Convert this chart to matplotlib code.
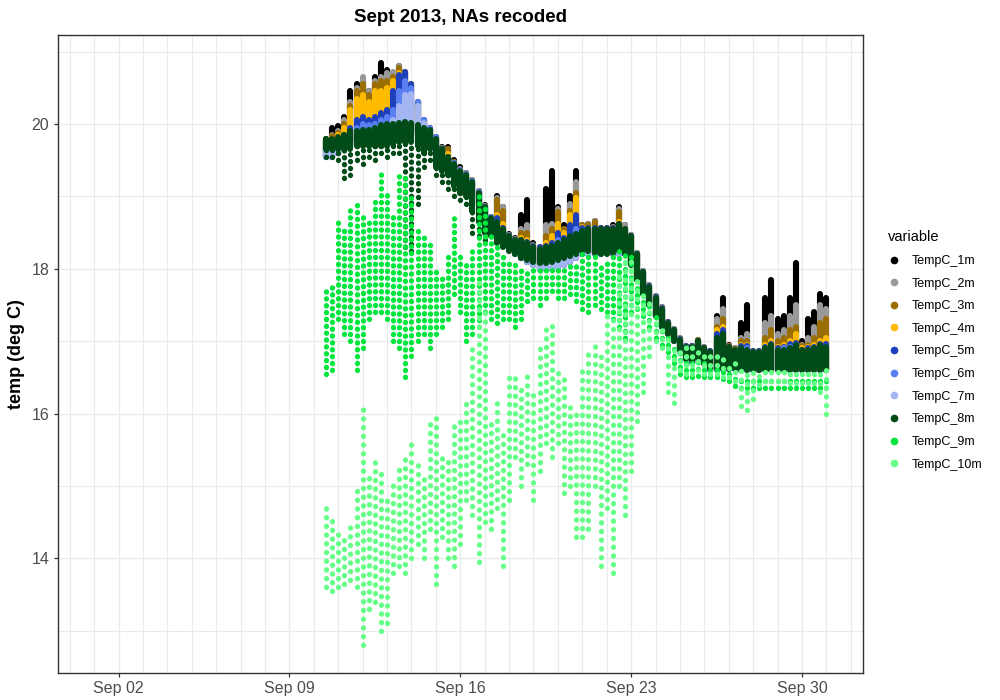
import numpy as np
import matplotlib
matplotlib.use('Agg')
import matplotlib.pyplot as plt
import matplotlib.dates as mdates
from matplotlib.lines import Line2D
from matplotlib.ticker import MultipleLocator

plt.rcParams['font.family'] = ['Liberation Sans', 'DejaVu Sans']

# %% data: 6-hourly bins, day of Sept 2013 (31 = Oct 1)
# each bin holds the low / high reading seen in that bin
day = np.arange(10.5, 31.01, 0.25)

# shared low edge of the 1m..7m loggers
floor_1to7 = [19.55, 19.55, 19.6, 19.65, 19.7, 19.75, 19.75, 19.78, 19.8, 19.8,
              19.8, 19.82, 19.85, 19.9, 19.9, 19.85, 19.8, 19.7, 19.6, 19.5,
              19.45, 19.35, 19.25, 19.15, 19.05, 18.9, 18.7, 18.55, 18.45, 18.4,
              18.3, 18.2, 18.15, 18.1, 18.05, 18.0, 18.0, 18.0, 18.02, 18.05,
              18.1, 18.15, 18.2, 18.2, 18.2, 18.2, 18.22, 18.2, 18.2, 18.2,
              18.1, 17.9, 17.7, 17.5, 17.35, 17.2, 17.1, 17.0, 16.85, 16.75,
              16.7, 16.72, 16.7, 16.6, 16.6, 16.62, 16.62, 16.62, 16.6, 16.6,
              16.6, 16.6, 16.6, 16.6, 16.6, 16.6, 16.6, 16.6, 16.6, 16.6,
              16.6, 16.6, 16.6]

hi_1m = [19.8, 19.95, 19.97, 20.1, 20.45, 20.55, 20.6, 20.45, 20.65, 20.85,
         20.75, 20.65, 20.8, 20.72, 20.55, 20.3, 20.05, 19.95, 19.82, 19.68,
         19.68, 19.5, 19.4, 19.32, 19.22, 19.08, 18.88, 18.72, 19.0, 18.85,
         18.48, 18.42, 18.75, 18.95, 18.35, 18.3, 19.1, 19.35, 18.85, 18.6,
         19.0, 19.35, 18.6, 18.62, 18.66, 18.57, 18.57, 18.6, 18.85, 18.6,
         18.47, 18.22, 17.97, 17.77, 17.62, 17.47, 17.27, 17.17, 17.04, 16.94,
         16.94, 17.02, 16.92, 16.87, 17.35, 17.6, 16.95, 16.9, 17.25, 17.5,
         16.87, 16.87, 17.6, 17.85, 17.3, 17.35, 17.6, 18.08, 17.0, 17.3,
         17.4, 17.65, 17.6]
hi_2m = [19.78, 19.85, 19.9, 20.05, 20.3, 20.5, 20.65, 20.45, 20.6, 20.65,
         20.7, 20.72, 20.8, 20.72, 20.55, 20.3, 20.05, 19.95, 19.82, 19.67,
         19.66, 19.48, 19.38, 19.32, 19.22, 19.07, 18.87, 18.72, 18.98, 18.85,
         18.47, 18.41, 18.55, 18.6, 18.33, 18.3, 18.6, 18.62, 18.82, 18.55,
         18.9, 19.2, 18.6, 18.62, 18.66, 18.57, 18.57, 18.58, 18.82, 18.6,
         18.47, 18.22, 17.97, 17.77, 17.62, 17.47, 17.27, 17.17, 17.04, 16.94,
         16.94, 17.02, 16.92, 16.87, 17.3, 17.45, 16.94, 16.9, 17.05, 17.1,
         16.87, 16.87, 17.25, 17.35, 17.1, 17.15, 17.35, 17.5, 16.95, 17.05,
         17.2, 17.5, 17.45]
hi_3m = [19.78, 19.83, 19.88, 20.0, 20.25, 20.45, 20.55, 20.4, 20.55, 20.6,
         20.6, 20.65, 20.78, 20.72, 20.55, 20.3, 20.05, 19.95, 19.82, 19.66,
         19.65, 19.47, 19.37, 19.31, 19.21, 19.06, 18.86, 18.71, 18.95, 18.8,
         18.46, 18.4, 18.5, 18.5, 18.32, 18.3, 18.45, 18.55, 18.78, 18.55,
         18.8, 19.05, 18.6, 18.6, 18.65, 18.56, 18.56, 18.57, 18.78, 18.55,
         18.46, 18.21, 17.96, 17.76, 17.61, 17.46, 17.26, 17.16, 17.03, 16.93,
         16.93, 17.01, 16.91, 16.86, 17.2, 17.3, 16.93, 16.89, 17.0, 17.0,
         16.86, 16.86, 17.05, 17.15, 17.0, 17.05, 17.15, 17.2, 16.93, 16.95,
         17.05, 17.25, 17.3]
hi_4m = [19.77, 19.8, 19.85, 19.95, 20.2, 20.35, 20.4, 20.3, 20.45, 20.45,
         20.5, 20.6, 20.7, 20.72, 20.55, 20.3, 20.05, 19.95, 19.82, 19.66,
         19.58, 19.46, 19.36, 19.31, 19.21, 19.06, 18.86, 18.71, 18.75, 18.62,
         18.46, 18.4, 18.42, 18.4, 18.32, 18.3, 18.36, 18.45, 18.62, 18.5,
         18.75, 18.98, 18.58, 18.56, 18.56, 18.56, 18.56, 18.56, 18.65, 18.52,
         18.46, 18.21, 17.96, 17.76, 17.61, 17.46, 17.26, 17.16, 17.03, 16.93,
         16.93, 17.0, 16.9, 16.86, 17.15, 17.2, 16.92, 16.88, 16.95, 16.95,
         16.86, 16.86, 16.95, 17.0, 16.92, 16.95, 17.0, 17.1, 16.9, 16.92,
         16.95, 17.0, 17.05]
hi_5m = [19.76, 19.78, 19.8, 19.85, 19.95, 20.05, 20.1, 20.05, 20.1, 20.15,
         20.2, 20.45, 20.68, 20.72, 20.55, 20.3, 20.05, 19.95, 19.82, 19.66,
         19.55, 19.46, 19.36, 19.31, 19.21, 19.06, 18.86, 18.71, 18.7, 18.56,
         18.46, 18.4, 18.4, 18.37, 18.32, 18.3, 18.32, 18.36, 18.5, 18.42,
         18.6, 18.75, 18.56, 18.56, 18.56, 18.56, 18.56, 18.56, 18.62, 18.5,
         18.46, 18.21, 17.96, 17.76, 17.61, 17.46, 17.26, 17.16, 17.03, 16.93,
         16.93, 17.0, 16.9, 16.86, 17.1, 17.15, 16.92, 16.88, 16.93, 16.93,
         16.86, 16.86, 16.92, 16.96, 16.9, 16.92, 16.96, 16.98, 16.88, 16.9,
         16.92, 16.96, 16.96]
hi_6m = [19.74, 19.76, 19.78, 19.82, 19.88, 19.95, 20.0, 19.98, 20.0, 20.05,
         20.1, 20.2, 20.45, 20.6, 20.5, 20.3, 20.05, 19.95, 19.82, 19.66,
         19.52, 19.46, 19.36, 19.31, 19.21, 19.06, 18.86, 18.71, 18.65, 18.53,
         18.46, 18.4, 18.38, 18.34, 18.3, 18.28, 18.28, 18.3, 18.4, 18.35,
         18.45, 18.55, 18.52, 18.52, 18.52, 18.52, 18.52, 18.52, 18.57, 18.48,
         18.45, 18.2, 17.95, 17.75, 17.6, 17.45, 17.25, 17.15, 17.02, 16.92,
         16.92, 16.98, 16.88, 16.84, 17.0, 17.05, 16.9, 16.86, 16.9, 16.9,
         16.85, 16.85, 16.9, 16.92, 16.88, 16.9, 16.92, 16.95, 16.86, 16.88,
         16.9, 16.92, 16.92]
hi_7m = [19.72, 19.74, 19.75, 19.78, 19.8, 19.85, 19.88, 19.88, 19.9, 19.92,
         19.95, 20.05, 20.25, 20.4, 20.42, 20.25, 20.02, 19.9, 19.78, 19.64,
         19.5, 19.44, 19.35, 19.3, 19.2, 19.05, 18.85, 18.7, 18.6, 18.5,
         18.44, 18.38, 18.33, 18.3, 18.28, 18.25, 18.22, 18.24, 18.3, 18.3,
         18.35, 18.45, 18.45, 18.45, 18.45, 18.45, 18.45, 18.47, 18.5, 18.42,
         18.4, 18.15, 17.9, 17.7, 17.55, 17.4, 17.22, 17.12, 17.0, 16.9,
         16.9, 16.95, 16.86, 16.82, 16.9, 16.95, 16.88, 16.85, 16.85, 16.85,
         16.84, 16.84, 16.85, 16.85, 16.84, 16.84, 16.85, 16.88, 16.82, 16.84,
         16.85, 16.85, 16.85]

# 8m: dense core plus the sparse dips of the first days
lo_8m = [19.65, 19.65, 19.65, 19.65, 19.65, 19.7, 19.7, 19.7, 19.7, 19.7,
         19.7, 19.72, 19.75, 19.75, 19.75, 19.7, 19.6, 19.65, 19.4, 19.35,
         19.3, 19.15, 19.05, 19.0, 18.8, 18.65, 18.5, 18.45, 18.35, 18.3,
         18.25, 18.2, 18.15, 18.12, 18.1, 18.08, 18.08, 18.1, 18.12, 18.15,
         18.18, 18.2, 18.25, 18.25, 18.22, 18.2, 18.2, 18.22, 18.25, 18.2,
         18.05, 17.85, 17.65, 17.5, 17.35, 17.2, 17.1, 17.0, 16.88, 16.75,
         16.72, 16.75, 16.68, 16.62, 16.62, 16.62, 16.62, 16.62, 16.6, 16.6,
         16.6, 16.6, 16.6, 16.6, 16.6, 16.6, 16.6, 16.6, 16.6, 16.6,
         16.6, 16.6, 16.6]
hi_8m = [19.8, 19.8, 19.82, 19.85, 19.9, 19.9, 19.92, 19.92, 19.95, 19.98,
         20.0, 20.0, 20.02, 20.03, 20.02, 19.98, 19.95, 19.92, 19.8, 19.65,
         19.55, 19.45, 19.35, 19.3, 19.2, 19.05, 18.85, 18.7, 18.65, 18.55,
         18.45, 18.4, 18.4, 18.35, 18.3, 18.28, 18.3, 18.32, 18.35, 18.4,
         18.45, 18.48, 18.52, 18.55, 18.55, 18.55, 18.55, 18.55, 18.62, 18.55,
         18.45, 18.2, 17.95, 17.75, 17.6, 17.45, 17.25, 17.15, 17.02, 16.92,
         16.92, 17.0, 16.9, 16.85, 17.05, 17.1, 16.92, 16.88, 16.9, 16.88,
         16.85, 16.85, 16.9, 16.95, 16.88, 16.88, 16.9, 16.95, 16.88, 16.88,
         16.9, 16.95, 16.92]
dip_8m = [19.55, 19.55, 19.5, 19.25, 19.3, 19.5, 19.45, 19.55, 19.5, 19.6,
          19.55, 19.6, 19.6, 18.3, 18.25, 18.9, 19.4, 19.5, 19.3, 19.2,
          19.1, 19.0, 18.95, 18.9, 18.5, 18.45, 18.4]

lo_9m = [16.55, 16.6, 17.3, 17.1, 17.0, 16.6, 16.9, 17.3, 17.4, 17.4,
         17.3, 17.0, 16.9, 16.5, 16.8, 17.0, 17.1, 16.9, 17.1, 17.2,
         17.3, 17.65, 17.4, 17.0, 17.1, 17.2, 17.4, 17.3, 17.25, 17.3,
         17.3, 17.2, 17.3, 17.55, 17.6, 17.5, 17.6, 17.7, 17.6, 17.6,
         17.65, 17.55, 17.45, 17.4, 17.5, 17.45, 17.4, 17.3, 17.2, 17.05,
         17.4, 17.45, 17.35, 17.2, 17.05, 16.95, 16.85, 16.7, 16.55, 16.5,
         16.5, 16.52, 16.5, 16.5, 16.5, 16.48, 16.45, 16.38, 16.36, 16.36,
         16.36, 16.36, 16.36, 16.36, 16.36, 16.36, 16.36, 16.36, 16.36, 16.36,
         16.36, 16.36, 16.36]
hi_9m = [17.7, 17.75, 18.7, 18.6, 18.9, 18.95, 18.8, 18.7, 19.0, 19.35,
         19.1, 18.8, 19.3, 19.25, 19.0, 18.6, 18.5, 18.4, 18.0, 17.9,
         18.2, 18.7, 18.2, 18.1, 18.3, 19.0, 18.85, 18.45, 18.3, 18.2,
         18.1, 18.05, 18.0, 18.0, 18.0, 18.05, 18.0, 18.0, 18.05, 18.0,
         18.05, 18.1, 18.2, 18.25, 18.2, 18.1, 18.15, 18.2, 18.25, 18.25,
         18.2, 17.85, 17.7, 17.5, 17.35, 17.2, 17.1, 16.95, 16.85, 16.8,
         16.75, 16.8, 16.72, 16.68, 16.68, 16.65, 16.6, 16.5, 16.48, 16.48,
         16.48, 16.48, 16.48, 16.48, 16.48, 16.48, 16.48, 16.48, 16.48, 16.48,
         16.48, 16.48, 16.48]

lo_10m = [13.6, 13.55, 13.6, 13.65, 13.7, 13.6, 12.8, 13.3, 13.4, 13.0,
          13.1, 13.8, 13.9, 13.8, 14.0, 14.2, 14.0, 14.4, 13.65, 14.3,
          14.0, 13.9, 14.2, 14.8, 14.6, 13.95, 14.5, 14.4, 14.7, 13.9,
          14.8, 15.4, 15.0, 15.3, 14.8, 15.2, 15.6, 15.4, 15.6, 14.9,
          15.0, 14.3, 14.3, 14.4, 15.0, 13.9, 14.7, 13.8, 15.0, 14.6,
          15.2, 15.9, 16.3, 16.8, 17.0, 16.9, 16.3, 16.15, 16.6, 16.55,
          16.55, 16.6, 16.55, 16.55, 16.55, 16.5, 16.5, 16.45, 16.1, 16.05,
          16.2, 16.4, 16.45, 16.45, 16.45, 16.45, 16.42, 16.42, 16.42, 16.42,
          16.42, 16.3, 16.0]
hi_10m = [14.8, 14.6, 14.4, 14.3, 14.5, 15.0, 16.1, 15.2, 15.4, 15.2,
          14.9, 15.1, 15.3, 15.4, 15.6, 15.3, 15.2, 15.9, 15.95, 15.4,
          15.4, 15.9, 16.0, 16.2, 17.0, 17.9, 17.5, 15.9, 16.2, 15.8,
          16.5, 16.6, 16.4, 16.6, 16.3, 16.9, 17.2, 17.3, 16.6, 16.5,
          16.2, 16.0, 16.7, 16.9, 17.0, 16.8, 17.4, 17.3, 17.9, 18.1,
          18.2, 17.9, 17.7, 17.55, 17.35, 17.2, 17.05, 16.95, 16.9, 16.95,
          17.0, 16.95, 16.85, 16.8, 16.8, 16.78, 16.72, 16.7, 16.65, 16.62,
          16.62, 16.6, 16.6, 16.6, 16.6, 16.6, 16.6, 16.62, 16.62, 16.62,
          16.62, 16.6, 16.6]

series = ['TempC_1m', 'TempC_2m', 'TempC_3m', 'TempC_4m', 'TempC_5m',
          'TempC_6m', 'TempC_7m', 'TempC_8m', 'TempC_9m', 'TempC_10m']
colors = ['#000000', '#999999', '#9a6e00', '#ffbb00', '#1f40bb',
          '#5a7ff0', '#a3b6f2', '#004b18', '#00e63c', '#66ff88']

# %% plot
t0 = mdates.date2num(np.datetime64('2013-09-01'))
x = t0 + day - 1

fig = plt.figure(figsize=(10, 7), dpi=100)
ax = fig.add_axes([0.0575, 0.039, 0.8055, 0.911])

lw = 4.4
dotted = [(0, (0.05, 1.25))]
upper = [hi_1m, hi_2m, hi_3m, hi_4m, hi_5m, hi_6m, hi_7m]
for hi, c in zip(upper, colors[:7]):
    lc = ax.vlines(x, floor_1to7, hi, colors=c, linewidth=lw, zorder=3)
    lc.set_capstyle('round')
n_dip = len(dip_8m)
lc = ax.vlines(x[:n_dip], dip_8m, lo_8m[:n_dip], colors=colors[7],
               linewidth=3.8, linestyles=dotted, zorder=3)
lc.set_capstyle('round')
lc = ax.vlines(x, lo_8m, hi_8m, colors=colors[7], linewidth=lw, zorder=3)
lc.set_capstyle('round')
lc = ax.vlines(x, lo_9m, hi_9m, colors=colors[8], linewidth=3.8,
               linestyles=dotted, zorder=3)
lc.set_capstyle('round')
lc = ax.vlines(x, lo_10m, hi_10m, colors=colors[9], linewidth=3.8,
               linestyles=[(0, (0.05, 1.6))], zorder=3)
lc.set_capstyle('round')

ax.set_xlim(t0 - 1.5, t0 + 31.5)
ax.set_ylim(12.42, 21.23)
ax.set_xticks(t0 + np.array([1, 8, 15, 22, 29]))
ax.xaxis.set_minor_locator(mdates.DayLocator())
ax.xaxis.set_major_formatter(mdates.DateFormatter('%b %d'))
ax.yaxis.set_major_locator(MultipleLocator(2))
ax.yaxis.set_minor_locator(MultipleLocator(1))

ax.set_axisbelow(True)
ax.grid(which='major', color='#ebebeb', linewidth=1.0)
ax.grid(which='minor', color='#ebebeb', linewidth=0.8)
for s in ax.spines.values():
    s.set_color('#333333')
    s.set_linewidth(1.0)
ax.tick_params(which='major', direction='out', length=3, width=0.9,
               color='#333333', labelcolor='#4d4d4d', labelsize=11.5, pad=3)
ax.tick_params(which='minor', length=0)

fig.text(0.46, 0.975, 'Sept 2013, NAs recoded', ha='center', va='center',
         fontsize=13.5, fontweight='bold')
fig.text(0.017, 0.494, 'temp (deg C)', rotation=90, ha='center', va='center',
         fontsize=13, fontweight='bold')

handles = [Line2D([], [], marker='o', linestyle='', color=c, markersize=4.5)
           for c in colors]
leg = fig.legend(handles, series, title='variable', loc='upper left',
                 bbox_to_anchor=(0.888, 0.671), frameon=False, fontsize=9,
                 title_fontsize=10.5, handlelength=1.0, handletextpad=0.9,
                 labelspacing=0.85, borderpad=0, borderaxespad=0,
                 alignment='left')

fig.savefig('out.png', dpi=100)
